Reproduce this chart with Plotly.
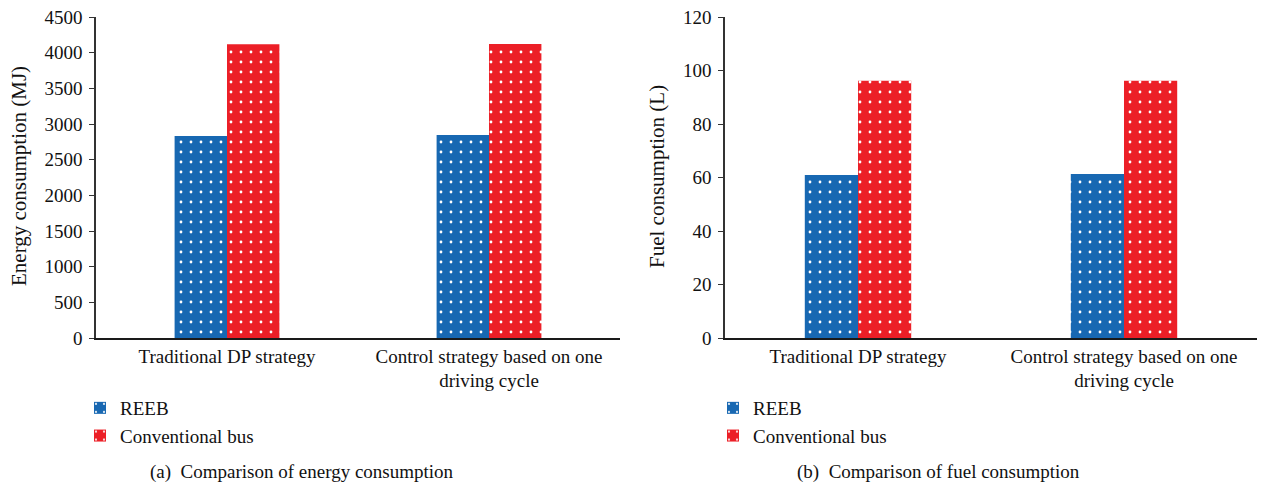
import plotly.graph_objects as go

# ---- data ----
categories = ["Traditional DP strategy", "Control strategy based on one<br>driving cycle"]
series_names = ["REEB", "Conventional bus"]
energy_reeb = [2832, 2846]
energy_conv = [4118, 4120]
fuel_reeb = [60.9, 61.3]
fuel_conv = [96.2, 96.2]
energy_ticks = [0, 500, 1000, 1500, 2000, 2500, 3000, 3500, 4000, 4500]
fuel_ticks = [0, 20, 40, 60, 80, 100, 120]

W, H = 1262, 491
BLUE = "#1868b2"
RED = "#ec1f27"
FONT = "Liberation Serif"
TXT = "#111"

def px_x(p):
    return p / W

def px_y(p):
    return (H - p) / H

def pat(color):
    return dict(shape=".", fgcolor="white", bgcolor=color, size=10, solidity=0.06, fillmode="replace")

fig = go.Figure()

fig.add_trace(go.Bar(x=categories, y=energy_reeb, name=series_names[0], marker=dict(color=BLUE, pattern=pat(BLUE), line=dict(width=0)),
                     xaxis="x", yaxis="y", legend="legend"))
fig.add_trace(go.Bar(x=categories, y=energy_conv, name=series_names[1], marker=dict(color=RED, pattern=pat(RED), line=dict(width=0)),
                     xaxis="x", yaxis="y", legend="legend"))
fig.add_trace(go.Bar(x=categories, y=fuel_reeb, name=series_names[0], marker=dict(color=BLUE, pattern=pat(BLUE), line=dict(width=0)),
                     xaxis="x2", yaxis="y2", legend="legend2"))
fig.add_trace(go.Bar(x=categories, y=fuel_conv, name=series_names[1], marker=dict(color=RED, pattern=pat(RED), line=dict(width=0)),
                     xaxis="x2", yaxis="y2", legend="legend2"))

ydom = [px_y(338), px_y(17)]
xaxis_common = dict(type="category", showline=True, linecolor="#1a1a1a", linewidth=1.5, ticks="",
                    showgrid=False, zeroline=False, tickfont=dict(family=FONT, size=19, color=TXT),
                    ticklabelstandoff=0, automargin=False)
yaxis_common = dict(showline=True, linecolor="#333", linewidth=1.5, ticks="outside", ticklen=5, tickcolor="#333",
                    showgrid=False, zeroline=False, tickfont=dict(family=FONT, size=19, color=TXT),
                    ticklabelstandoff=3, automargin=False)
legend_common = dict(xanchor="left", yanchor="top", bgcolor="rgba(0,0,0,0)",
                     font=dict(family=FONT, size=19, color=TXT), traceorder="normal", tracegroupgap=0)

fig.update_layout(
    width=W, height=H,
    margin=dict(l=0, r=0, t=0, b=0, autoexpand=False),
    paper_bgcolor="white", plot_bgcolor="white",
    barmode="group", bargap=0.6, bargroupgap=0,
    font=dict(family=FONT, size=19, color=TXT),
    xaxis=dict(domain=[px_x(96), px_x(620)], anchor="y", **xaxis_common),
    yaxis=dict(domain=ydom, anchor="x", range=[0, 4500], tickvals=energy_ticks, **yaxis_common),
    xaxis2=dict(domain=[px_x(725), px_x(1257)], anchor="y2", **xaxis_common),
    yaxis2=dict(domain=ydom, anchor="x2", range=[0, 120], tickvals=fuel_ticks, **yaxis_common),
    legend=dict(x=px_x(80), y=px_y(389), **legend_common),
    legend2=dict(x=px_x(713), y=px_y(389), **legend_common),
    annotations=[
        dict(text="Energy consumption (MJ)", textangle=-90, x=px_x(19), y=px_y(176), xref="paper", yref="paper",
             showarrow=False, font=dict(family=FONT, size=21, color=TXT), xanchor="center", yanchor="middle"),
        dict(text="Fuel consumption (L)", textangle=-90, x=px_x(657), y=px_y(177), xref="paper", yref="paper",
             showarrow=False, font=dict(family=FONT, size=21, color=TXT), xanchor="center", yanchor="middle"),
        dict(text="(a)\u00a0\u00a0Comparison of energy consumption", x=px_x(302), y=px_y(472), xref="paper", yref="paper",
             showarrow=False, font=dict(family=FONT, size=19, color=TXT), xanchor="center", yanchor="middle"),
        dict(text="(b)\u00a0\u00a0Comparison of fuel consumption", x=px_x(939), y=px_y(472), xref="paper", yref="paper",
             showarrow=False, font=dict(family=FONT, size=19, color=TXT), xanchor="center", yanchor="middle"),
    ],
)

fig.write_html("out.html")
